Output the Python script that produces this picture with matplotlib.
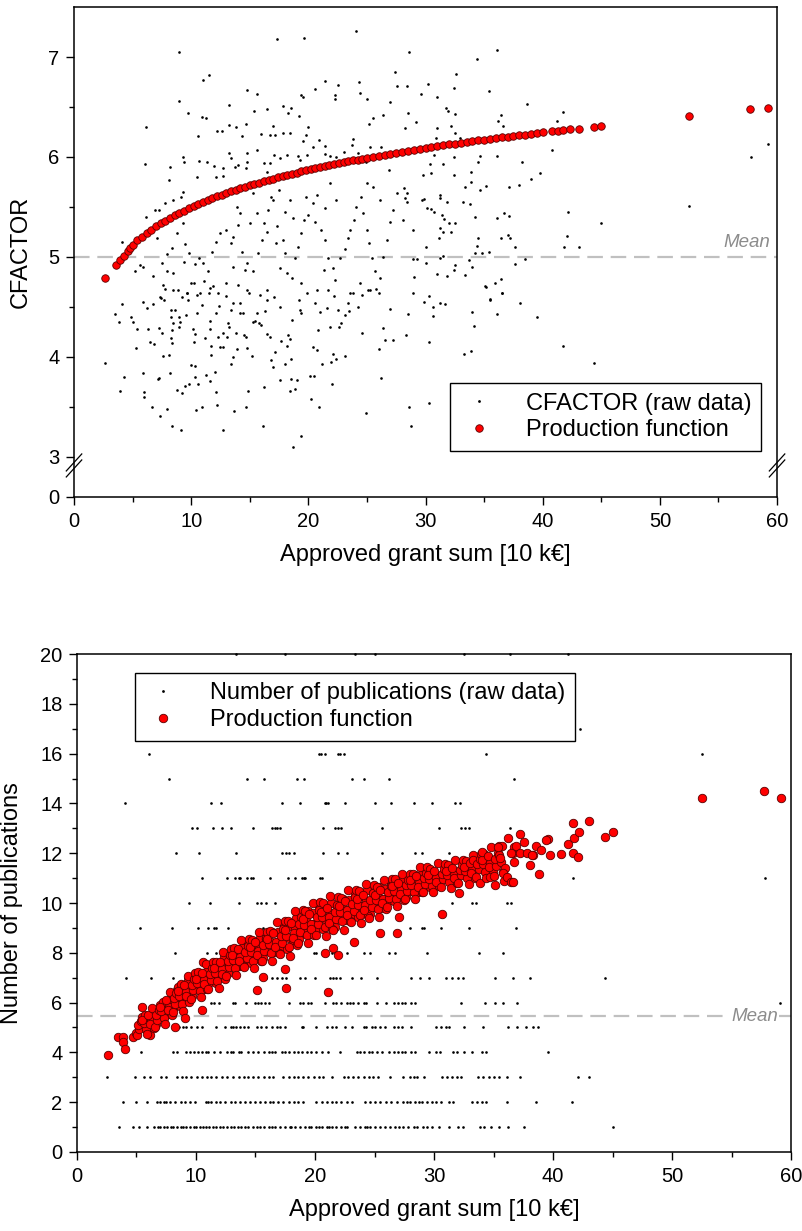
import matplotlib
matplotlib.use("Agg")
import matplotlib.pyplot as plt
import matplotlib.transforms as mtransforms
from matplotlib.lines import Line2D

plt.rcParams['font.family'] = ['Liberation Sans', 'DejaVu Sans']

# ---------------- top panel: CFACTOR ----------------
# raw CFACTOR values (grant sum [10 kEUR], cfactor)
cf_raw_low = [
    (2.67, 3.94), (3.5, 4.43), (3.87, 4.35), (4.13, 4.53), (4.24, 3.80), (3.95, 3.66), (4.84, 4.40), (5.04, 4.35),
    (5.41, 4.28), (5.26, 4.09), (5.92, 4.55), (6.23, 4.49), (6.71, 4.53), (6.29, 4.28), (6.46, 4.15), (6.83, 4.13),
    (5.92, 3.84), (6.0, 3.65), (6.0, 3.60), (6.63, 3.50), (7.14, 3.78), (7.28, 3.79), (7.31, 3.41), (7.57, 4.01),
    (7.23, 4.29), (7.54, 4.24), (7.43, 4.59), (7.68, 4.57), (7.97, 3.48), (8.36, 3.31), (8.19, 3.84), (8.14, 4.02),
    (8.25, 4.47), (8.31, 4.40), (8.34, 4.27), (8.28, 4.19), (8.34, 4.14), (8.42, 4.34), (8.62, 4.47), (8.76, 3.67),
    (9.1, 3.27), (9.25, 3.64), (9.47, 3.71), (8.99, 4.40), (9.05, 4.35), (8.96, 4.30), (9.56, 4.42), (9.7, 4.57),
    (9.96, 3.92), (10.3, 3.91), (9.84, 3.73), (10.3, 3.80), (10.4, 3.47), (10.55, 3.73), (10.9, 3.50), (11.24, 3.82),
    (11.6, 3.76), (12.0, 3.85), (12.1, 3.65), (12.2, 3.52), (12.75, 3.27), (10.2, 4.15), (10.36, 4.23), (10.47, 4.44),
    (10.13, 4.28), (10.5, 4.62), (10.75, 4.64), (11.18, 4.19), (11.6, 4.28), (11.65, 4.11), (11.68, 4.02), (11.6, 4.36),
    (12.1, 4.44), (12.3, 4.20), (12.46, 4.10), (12.69, 4.10), (12.75, 4.24), (13.1, 4.34), (13.26, 4.30), (13.03, 4.20),
    (13.37, 3.93), (13.6, 4.0), (13.68, 3.46), (13.88, 4.08), (13.8, 4.24), (14.17, 4.54), (14.45, 4.44), (14.53, 4.22),
    (14.7, 4.20), (14.74, 4.09), (14.68, 3.50), (14.82, 3.66), (15.2, 4.01), (15.3, 4.35), (15.45, 4.36), (15.8, 4.34),
    (15.93, 4.32), (16.2, 3.70), (16.1, 3.31), (16.5, 4.23), (16.7, 4.20), (16.8, 3.97), (17.0, 3.90), (17.15, 4.05),
    (17.6, 3.77), (17.7, 4.16), (18.0, 3.93), (18.15, 4.11), (18.3, 4.22), (18.4, 4.18), (18.5, 3.98), (18.5, 3.78),
    (18.4, 3.66), (18.9, 3.68), (19.0, 3.77), (18.7, 3.10), (19.35, 3.21), (20.1, 3.81), (20.5, 3.81), (20.2, 3.58),
    (20.9, 3.50), (20.4, 4.10), (20.7, 4.07), (20.85, 4.27), (21.2, 3.93), (22.05, 3.73), (21.9, 3.95), (22.1, 4.03),
    (22.36, 3.98), (23.1, 4.01), (24.9, 3.44), (26.0, 4.08), (26.2, 3.79), (26.5, 4.17), (27.25, 4.17), (26.35, 4.29),
    (24.6, 4.24), (24.2, 4.50), (23.4, 4.54), (22.6, 4.30), (21.85, 4.30), (22.75, 4.34), (22.55, 4.47), (23.1, 4.42),
    (23.5, 4.46), (21.6, 4.49), (21.0, 4.45), (20.6, 4.54), (19.3, 4.47), (19.2, 4.57), (19.4, 4.44), (18.6, 4.37),
    (17.6, 4.50), (17.1, 4.60), (16.3, 4.46), (16.45, 4.57), (15.6, 4.44), (14.9, 4.64), (14.2, 4.44), (13.6, 4.54),
    (13.4, 4.47), (12.95, 4.61), (12.4, 4.51), (11.9, 4.71), (11.5, 4.64), (10.9, 4.52), (10.27, 4.74), (9.6, 4.64),
    (9.25, 4.60), (8.85, 4.67), (8.48, 4.67), (7.77, 4.68), (7.34, 4.60), (25.8, 4.68), (25.1, 4.67), (24.6, 4.62),
    (23.8, 4.64), (22.2, 4.61), (21.7, 4.67), (26.97, 4.48),
]
cf_raw_mid = [
    (8.96, 7.05), (17.3, 7.18), (19.6, 7.19), (24.1, 7.26), (11.55, 6.82), (11.04, 6.77), (9.0, 6.56), (9.76, 6.44),
    (13.2, 6.52), (14.8, 6.67), (15.65, 6.63), (15.36, 6.46), (16.5, 6.48), (16.95, 6.31), (17.8, 6.51), (18.3, 6.44),
    (18.5, 6.49), (19.2, 6.41), (19.4, 6.62), (19.5, 6.60), (19.8, 6.22), (19.95, 6.30), (20.6, 6.68), (21.4, 6.76),
    (22.3, 6.62), (22.55, 6.72), (22.3, 6.58), (24.3, 6.75), (24.4, 6.64), (24.98, 6.58), (25.2, 6.33), (25.5, 6.39),
    (26.35, 6.42), (26.97, 6.55), (27.4, 6.85), (27.54, 6.71), (10.9, 6.40), (11.27, 6.39), (10.58, 6.21), (12.18, 6.26),
    (12.66, 6.26), (13.2, 6.32), (13.8, 6.30), (14.3, 6.21), (14.7, 6.33), (15.96, 6.23), (16.7, 6.22), (17.15, 6.22),
    (17.8, 6.24), (18.4, 6.24), (19.5, 6.16), (20.4, 6.10), (21.4, 6.11), (20.9, 6.17), (23.8, 6.18), (23.7, 6.12),
    (24.9, 5.95), (25.3, 6.10), (26.2, 6.10), (26.9, 5.87), (26.7, 6.04), (24.2, 6.04), (23.0, 6.05), (22.4, 6.00),
    (21.85, 6.01), (21.4, 6.03), (19.86, 6.02), (19.3, 5.97), (19.1, 6.01), (18.2, 6.02), (17.6, 5.99), (17.1, 6.02),
    (16.7, 5.94), (16.2, 5.94), (16.5, 5.85), (15.65, 6.07), (14.8, 6.04), (14.8, 5.95), (14.7, 5.89), (14.0, 5.92),
    (13.74, 5.90), (13.26, 6.04), (13.37, 5.99), (12.75, 5.89), (12.7, 5.81), (12.1, 5.80), (11.95, 5.91), (11.32, 5.95),
    (10.7, 5.96), (10.53, 5.80), (9.27, 6.00), (9.42, 5.95), (8.19, 5.90), (8.1, 5.77), (9.27, 5.65), (9.1, 5.60),
    (8.48, 5.57), (7.8, 5.54), (7.28, 5.47), (6.94, 5.47), (6.12, 6.30), (6.09, 5.93), (6.12, 5.40), (6.43, 5.28),
    (4.1, 5.15), (5.63, 4.92), (5.92, 4.90), (5.2, 4.86), (6.71, 4.81), (7.54, 4.94), (7.97, 5.03), (7.9, 4.86),
    (7.6, 4.72), (8.48, 4.84), (9.42, 4.95), (9.47, 5.13), (9.84, 5.04), (10.33, 4.93), (10.7, 4.99), (11.04, 4.94),
    (11.1, 4.76), (11.4, 4.86), (11.75, 5.05), (12.1, 5.15), (12.46, 5.24), (12.95, 5.27), (13.37, 5.14), (13.6, 5.20),
    (13.97, 5.32), (14.17, 5.44), (13.94, 5.50), (14.6, 4.87), (14.74, 4.94), (15.3, 4.86), (15.73, 5.04), (16.07, 5.17),
    (16.45, 5.25), (16.25, 5.34), (16.53, 5.47), (16.95, 5.57), (16.8, 5.60), (17.3, 5.31), (17.24, 5.14), (17.87, 5.17),
    (18.0, 5.04), (17.6, 4.89), (18.15, 4.84), (18.6, 4.79), (18.86, 4.99), (19.1, 5.10), (19.35, 5.24), (19.6, 5.37),
    (19.94, 5.42), (19.8, 5.60), (20.37, 5.54), (20.7, 5.62), (20.57, 5.35), (21.1, 5.27), (21.4, 5.17), (21.7, 4.99),
    (21.3, 4.87), (22.13, 4.89), (22.3, 4.77), (22.7, 4.99), (23.1, 5.08), (23.4, 5.19), (23.55, 5.27), (23.9, 5.37),
    (24.1, 5.50), (24.5, 5.60), (24.7, 5.44), (25.0, 5.27), (25.2, 5.14), (25.4, 4.99), (25.7, 4.86), (26.1, 4.79),
    (26.4, 5.00), (26.7, 5.17), (26.97, 5.35), (27.25, 5.47), (27.54, 5.64), (26.1, 5.57), (25.5, 5.70), (24.98, 5.74),
    (22.4, 5.57), (21.85, 5.74), (21.4, 5.49), (18.4, 5.57), (18.7, 5.39), (18.0, 5.45), (17.5, 5.67), (15.3, 5.64),
    (15.6, 5.44), (15.0, 5.34), (14.3, 5.05), (13.6, 4.90), (13.0, 4.74), (12.3, 4.64), (11.6, 4.69), (10.0, 4.74),
    (9.6, 4.64), (9.27, 5.34), (8.82, 5.24), (8.34, 5.09), (7.06, 5.19), (26.06, 4.64), (25.26, 4.67), (23.55, 4.64),
    (24.4, 4.74), (20.7, 4.67), (19.86, 4.64), (19.4, 4.74), (16.45, 4.67), (15.9, 4.62), (14.74, 4.67), (13.97, 4.72),
]
cf_raw_right = [
    (28.6, 7.05), (36.1, 7.07), (34.4, 6.98), (32.6, 6.83), (28.45, 6.71), (30.2, 6.73), (29.6, 6.63), (31.0, 6.60),
    (32.4, 6.69), (35.4, 6.66), (31.75, 6.49), (31.95, 6.46), (32.5, 6.43), (28.5, 6.44), (29.2, 6.35), (28.25, 6.29),
    (31.0, 6.29), (32.15, 6.31), (32.5, 6.24), (36.4, 6.42), (36.2, 6.36), (36.65, 6.31), (38.7, 6.53), (41.25, 6.36),
    (41.7, 6.45), (40.8, 6.07), (30.9, 6.19), (32.95, 6.19), (30.7, 6.02), (31.5, 5.93), (30.4, 5.93), (29.8, 5.82),
    (30.5, 5.84), (32.4, 6.00), (32.4, 5.82), (33.4, 5.70), (33.9, 5.85), (33.9, 5.75), (34.65, 6.01), (34.5, 5.95),
    (34.65, 5.67), (35.2, 5.71), (36.1, 6.01), (37.1, 5.70), (38.0, 5.72), (38.2, 5.95), (39.0, 5.78), (39.8, 5.84),
    (42.2, 5.45), (45.0, 5.34), (42.1, 5.21), (41.8, 5.10), (43.1, 5.10), (52.5, 5.51), (57.75, 6.00), (59.2, 6.13),
    (28.2, 5.69), (28.4, 5.64), (28.25, 5.59), (28.45, 5.55), (28.05, 5.37), (28.96, 5.27), (29.67, 5.57), (29.9, 5.58),
    (30.1, 5.49), (30.7, 5.45), (30.5, 5.48), (31.2, 5.62), (31.2, 5.59), (31.8, 5.55), (31.4, 5.42), (31.6, 5.38),
    (32.0, 5.34), (32.5, 5.34), (31.2, 5.29), (31.5, 5.25), (32.15, 5.25), (31.15, 5.19), (33.2, 5.55), (33.8, 5.53),
    (34.2, 5.40), (36.1, 5.39), (36.7, 5.44), (37.1, 5.41), (36.4, 5.19), (37.0, 5.22), (37.2, 5.19), (37.6, 5.10),
    (34.5, 5.19), (34.35, 5.11), (34.2, 5.04), (35.4, 5.05), (34.8, 5.04), (30.0, 5.10), (28.96, 4.98), (29.25, 4.98),
    (30.0, 4.94), (31.2, 4.99), (31.5, 5.01), (31.8, 4.81), (30.95, 4.83), (32.5, 4.92), (32.45, 4.87), (33.4, 4.82),
    (33.75, 4.97), (34.0, 4.90), (37.6, 4.93), (38.5, 4.98), (29.0, 4.80), (28.9, 4.64), (30.3, 4.61), (35.2, 4.70),
    (35.9, 4.74), (36.4, 4.78), (36.5, 4.64), (35.5, 4.58),
    (41.7, 4.11), (44.4, 3.94), (39.5, 4.40), (38.1, 4.54), (34.0, 4.45), (34.1, 4.31), (33.3, 4.03), (33.9, 4.06),
    (30.3, 4.15), (28.6, 3.50), (30.3, 3.54), (28.8, 3.31), (35.1, 4.71), (35.5, 4.57), (36.1, 4.43), (36.5, 4.64),
    (31.2, 4.54), (31.7, 4.53), (29.9, 4.55), (30.6, 4.50), (30.6, 4.41), (28.5, 4.43), (28.3, 4.22),
]

# production function values for CFACTOR
cf_fit_x = [2.67, 3.56, 3.93, 4.27, 4.6, 4.8, 5.0, 5.4, 5.8, 6.2, 6.6, 7.0, 7.4, 7.8, 8.2, 8.6, 9.0, 9.4, 9.8,
            10.2, 10.6, 11.0, 11.4, 11.8, 12.2, 12.6, 13.0, 13.4, 13.8, 14.2, 14.6, 15.0, 15.4, 15.8, 16.2,
            16.6, 17.0, 17.4, 17.8, 18.2, 18.6, 19.0, 19.4, 19.8, 20.2, 20.6, 21.0, 21.4, 21.8, 22.2, 22.6,
            23.0, 23.4, 23.8, 24.2, 24.6, 25.0, 25.5, 26.0, 26.5, 27.0, 27.5, 28.0, 28.5, 29.0, 29.5, 30.0,
            30.5, 31.0, 31.5, 32.0, 32.5, 33.0, 33.5, 34.0, 34.5, 35.0, 35.5, 36.0, 36.5, 37.0, 37.5, 38.0,
            38.5, 39.0, 39.5, 40.0, 40.8, 41.3, 41.7, 42.3, 43.1, 44.4, 45.0, 52.5, 57.7, 59.2]
cf_fit_y = [4.79, 4.92, 4.97, 5.01, 5.06, 5.09, 5.12, 5.165, 5.203, 5.239, 5.273, 5.305, 5.335, 5.363, 5.39,
            5.416, 5.44, 5.464, 5.486, 5.508, 5.529, 5.549, 5.568, 5.587, 5.605, 5.622, 5.639, 5.655, 5.672,
            5.687, 5.702, 5.716, 5.73, 5.744, 5.758, 5.771, 5.784, 5.796, 5.809, 5.821, 5.832, 5.844, 5.855,
            5.866, 5.877, 5.888, 5.898, 5.908, 5.918, 5.928, 5.938, 5.947, 5.956, 5.966, 5.974, 5.983, 5.992,
            6.003, 6.013, 6.024, 6.034, 6.043, 6.053, 6.063, 6.072, 6.081, 6.09, 6.1, 6.108, 6.117, 6.126,
            6.134, 6.142, 6.15, 6.158, 6.166, 6.174, 6.182, 6.189, 6.196, 6.204, 6.211, 6.218, 6.225, 6.232,
            6.239, 6.246, 6.26, 6.265, 6.27, 6.28, 6.285, 6.30, 6.31, 6.41, 6.48, 6.49]
cf_mean = 5.0

# ---------------- bottom panel: publications ----------------
# raw publication counts: grant sums listed per count
pub_1 = [3.5, 4.7, 5.2, 5.9, 6.5, 6.8, 7.0, 7.3, 7.6, 7.9, 8.1, 8.4, 8.7, 8.9, 9.2, 9.5, 9.8, 10.0, 10.3, 10.6,
         10.8, 11.1, 11.4, 11.7, 12.0, 12.3, 12.6, 12.9, 13.2, 13.5, 13.8, 14.1, 14.4, 14.8, 15.1, 15.4, 15.7,
         16.1, 16.4, 16.6, 17.1, 17.5, 17.9, 18.0, 18.3, 18.7, 19.2, 19.5, 19.7, 20.1, 20.3, 20.6, 21.0, 21.2,
         21.4, 21.8, 22.2, 22.5, 22.7, 23.4, 23.8, 24.2, 24.4, 24.6, 25.0, 25.5, 25.9, 26.3, 26.7, 27.1, 27.4,
         27.8, 28.3, 28.6, 29.1, 29.4, 29.8, 30.4, 31.3, 32.0, 32.4, 33.9, 34.2, 34.8, 35.5, 36.2, 37.6, 45.0]
pub_2 = [3.9, 5.0, 5.9, 6.7, 7.0, 7.3, 7.5, 7.8, 8.2, 8.7, 9.1, 9.5, 9.9, 10.8, 11.0, 11.3, 11.7, 12.0, 12.4,
         12.9, 13.3, 13.7, 14.1, 14.5, 15.0, 15.4, 15.8, 16.2, 16.5, 16.9, 17.3, 17.8, 18.2, 18.6, 19.0, 20.1,
         20.6, 21.0, 21.4, 21.8, 22.2, 22.7, 23.1, 24.2, 24.6, 25.0, 25.5, 26.0, 26.4, 26.9, 27.4, 27.7, 28.0,
         28.4, 28.7, 29.0, 29.4, 29.8, 30.2, 30.6, 31.3, 31.6, 33.2, 33.6, 34.0, 34.4, 36.1, 38.6, 41.6]
pub_3 = [2.55, 4.9, 5.6, 6.1, 7.1, 7.5, 8.4, 8.8, 9.2, 9.6, 10.1, 10.5, 10.9, 11.3, 11.7, 12.2, 12.6, 13.1,
         13.6, 14.0, 14.4, 14.8, 15.2, 15.7, 16.1, 16.5, 17.3, 17.8, 18.2, 18.6, 19.0, 19.4, 19.9, 20.3, 20.7,
         21.4, 22.4, 22.8, 23.2, 23.6, 24.1, 24.5, 24.9, 25.3, 26.3, 27.4, 28.0, 28.3, 28.6, 29.2, 30.7, 31.1,
         31.5, 31.9, 32.3, 33.7, 34.1, 34.6, 35.0, 35.5, 36.1, 37.2, 42.1, 43.0]
pub_4 = [5.4, 8.1, 8.4, 9.2, 9.5, 9.8, 10.2, 10.5, 10.8, 11.0, 11.5, 12.0, 12.6, 12.9, 13.1, 13.6, 13.8, 14.4,
         14.8, 15.2, 15.7, 16.1, 16.4, 16.6, 17.2, 17.5, 17.8, 18.2, 18.6, 18.9, 19.3, 19.7, 20.1, 20.6, 21.1,
         22.1, 23.5, 23.8, 24.1, 24.5, 24.8, 25.2, 25.6, 26.2, 26.6, 27.0, 27.3, 27.6, 28.1, 28.4, 29.6, 30.2,
         30.5, 31.6, 31.9, 32.5, 33.2, 34.0, 34.4, 39.6]
pub_5 = [8.6, 8.9, 9.2, 9.6, 10.1, 10.5, 11.7, 12.4, 12.9, 13.1, 13.4, 13.7, 14.0, 14.4, 15.1, 15.5, 15.9,
         16.4, 16.8, 17.1, 17.5, 18.9, 19.0, 20.1, 21.0, 21.4, 21.8, 22.5, 23.1, 24.1, 24.3, 24.8, 25.0, 25.5,
         25.9, 26.6, 27.0, 27.3, 28.1, 30.2, 30.6, 31.0, 31.3, 32.5, 34.1, 36.2, 37.0, 37.7, 38.3, 38.7]
pub_6 = [11.3, 11.5, 11.9, 13.1, 13.3, 14.2, 15.0, 15.2, 15.5, 15.8, 16.1, 17.8, 18.7, 19.0, 19.4, 19.7, 20.8,
         21.5, 21.8, 22.2, 22.7, 22.9, 23.2, 23.6, 24.1, 24.3, 25.2, 26.0, 26.6, 27.0, 27.3, 27.6, 28.1, 28.4,
         32.3, 34.3, 35.1, 35.8, 37.0, 59.1]
pub_7 = [4.1, 6.2, 8.1, 9.1, 9.8, 15.9, 16.4, 16.8, 17.2, 17.6, 18.7, 19.2, 20.0, 21.3, 21.5, 21.8, 22.1,
         23.1, 23.9, 25.2, 28.1, 28.8, 29.6, 31.0, 31.5, 32.0, 32.4, 35.1, 36.6, 38.1, 44.4]
pub_8 = [8.2, 10.9, 11.7, 19.9, 20.1, 20.7, 21.4, 21.7, 22.7, 24.1, 24.6, 26.2, 26.7, 29.4, 33.8, 35.8]
pub_9 = [5.3, 8.0, 10.2, 11.0, 11.5, 11.7, 12.7, 15.6, 28.0, 29.0, 29.2, 30.6, 32.9, 36.9]
pub_10 = [9.4, 11.2, 13.6, 15.1, 15.5, 15.9, 16.6, 31.5, 33.2, 33.5, 36.1, 36.5]
pub_11 = [10.5, 12.6, 13.3, 13.6, 13.7, 14.3, 14.6, 14.8, 16.2, 17.7, 18.3, 18.9, 19.1, 19.2, 20.4, 20.6,
          24.8, 41.7, 57.8]
pub_12 = [8.3, 10.25, 13.4, 17.2, 17.6, 17.85, 18.2, 20.7, 21.9, 22.7, 25.6, 28.4, 28.96, 31.3]
pub_13 = [9.7, 10.1, 11.45, 12.2, 12.9, 14.8, 16.4, 16.6, 16.8, 17.1, 20.7, 21.7, 21.9, 22.2, 25.6, 30.4,
          32.3, 32.6, 32.9, 36.4]
pub_14 = [4.0, 11.3, 12.1, 17.2, 18.7, 20.8, 20.9, 21.1, 22.5, 25.0, 26.4, 28.3, 29.8, 31.8, 32.2]
pub_15 = [7.7, 14.3, 15.7, 18.5, 19.1, 23.1, 24.1, 26.2, 36.7]
pub_16 = [6.05, 20.3, 20.5, 20.8, 21.9, 22.1, 22.4, 34.4, 52.5]
pub_17 = [42.3]
pub_20 = [13.4, 17.5, 23.4, 25.0, 32.5, 36.4, 41.3]

# production function values for publications (grant sum, predicted count)
pub_fit = [
    (2.63, 3.9), (3.47, 4.63), (3.89, 4.63), (3.89, 4.43), (4.03, 4.15), (4.73, 4.63), (5.0, 4.77), (6.13, 4.70),
    (5.05, 4.71), (5.25, 4.94), (5.15, 5.10), (5.35, 5.25), (5.45, 5.41),
    (5.8, 4.95), (5.6, 5.18), (5.9, 4.75), (5.7, 5.52), (5.5, 5.32), (5.43, 5.84),
    (6.2, 5.27), (6.45, 4.99), (6.0, 5.51), (6.3, 5.80), (6.15, 5.15),
    (6.55, 5.03), (6.75, 5.32), (6.65, 5.51), (6.85, 5.69), (6.95, 5.89),
    (7.3, 5.39), (7.1, 5.65), (7.4, 5.16), (7.2, 6.04), (7.0, 5.81),
    (7.7, 5.84), (7.95, 5.52), (7.5, 6.12), (7.8, 6.44), (7.65, 5.70),
    (8.05, 5.61), (8.25, 5.94), (8.15, 6.17), (8.35, 6.39), (8.45, 6.62), (8.24, 5.0),
    (8.8, 5.95), (8.6, 6.27), (8.9, 5.67), (8.7, 6.75), (8.5, 6.47), (9.08, 5.37),
    (9.2, 6.41), (9.45, 6.04), (9.0, 6.72), (9.3, 7.08), (9.15, 6.25),
    (9.55, 6.16), (9.75, 6.49), (9.65, 6.72), (9.85, 6.94), (9.95, 7.17),
    (10.3, 6.48), (10.1, 6.77), (10.4, 6.22), (10.2, 7.22), (10.0, 6.96), (10.5, 5.70), (10.56, 7.64),
    (10.7, 6.89), (10.95, 6.53), (10.5, 7.18), (10.8, 7.54), (10.65, 6.73),
    (11.05, 6.56), (11.25, 6.91), (11.15, 7.14), (11.35, 7.37), (11.45, 7.62),
    (11.8, 6.85), (11.6, 7.17), (11.9, 6.57), (11.7, 7.65), (11.5, 7.37),
    (12.2, 7.33), (12.45, 6.95), (12.0, 7.65), (12.3, 8.03), (12.15, 7.16),
    (12.55, 7.07), (12.75, 7.43), (12.65, 7.67), (12.85, 7.91), (12.95, 8.16),
    (13.3, 7.40), (13.1, 7.72), (13.4, 7.12), (13.2, 8.20), (13.0, 7.92),
    (13.7, 7.83), (13.95, 7.45), (13.5, 8.15), (13.8, 8.53), (13.65, 7.66),
    (14.05, 7.42), (14.25, 7.80), (14.15, 8.05), (14.35, 8.29), (14.45, 8.56),
    (14.8, 7.68), (14.6, 8.02), (14.9, 7.38), (14.7, 8.53), (14.5, 8.23),
    (15.2, 8.08), (15.45, 7.67), (15.0, 8.42), (15.3, 8.83), (15.15, 7.90), (15.1, 6.50), (15.66, 7.04),
    (15.55, 7.68), (15.75, 8.07), (15.65, 8.33), (15.85, 8.58), (15.95, 8.85),
    (16.3, 7.99), (16.1, 8.34), (16.4, 7.68), (16.2, 8.87), (16.0, 8.56),
    (16.7, 8.42), (16.95, 7.99), (16.5, 8.79), (16.8, 9.22), (16.65, 8.23),
    (17.05, 7.95), (17.25, 8.40), (17.15, 8.69), (17.35, 8.97), (17.45, 9.28),
    (17.8, 8.25), (17.6, 8.66), (17.9, 7.89), (17.7, 9.28), (17.5, 8.92), (17.6, 6.57), (17.5, 7.34),
    (18.2, 8.79), (18.45, 8.32), (18.0, 9.19), (18.3, 9.66), (18.15, 8.58),
    (18.55, 8.40), (18.75, 8.85), (18.65, 9.14), (18.85, 9.42), (18.95, 9.73),
    (19.3, 8.73), (19.1, 9.12), (19.4, 8.39), (19.2, 9.69), (19.0, 9.35),
    (19.7, 9.17), (19.95, 8.71), (19.5, 9.56), (19.8, 10.02), (19.65, 8.96),
    (20.05, 8.70), (20.25, 9.15), (20.15, 9.44), (20.35, 9.72), (20.45, 10.03),
    (20.8, 9.03), (20.6, 9.42), (20.9, 8.69), (20.7, 9.99), (20.5, 9.65), (20.8, 8.0),
    (21.2, 9.42), (21.45, 8.96), (21.0, 9.81), (21.3, 10.27), (21.15, 9.21), (21.07, 6.41), (21.5, 8.18),
    (21.55, 8.90), (21.75, 9.35), (21.65, 9.64), (21.85, 9.92), (21.95, 10.23), (21.9, 7.91),
    (22.3, 9.26), (22.1, 9.64), (22.4, 8.93), (22.2, 10.20), (22.0, 9.87),
    (22.7, 9.72), (22.95, 9.29), (22.5, 10.09), (22.8, 10.52), (22.65, 9.53),
    (23.05, 9.25), (23.25, 9.68), (23.15, 9.96), (23.35, 10.24), (23.45, 10.54), (23.3, 8.45),
    (23.8, 9.53), (23.6, 9.92), (23.9, 9.19), (23.7, 10.49), (23.5, 10.15),
    (24.2, 9.92), (24.45, 9.46), (24.0, 10.31), (24.3, 10.77), (24.15, 9.71),
    (24.55, 9.40), (24.75, 9.85), (24.65, 10.14), (24.85, 10.42), (24.95, 10.73),
    (25.3, 9.75), (25.1, 10.12), (25.4, 9.43), (25.2, 10.66), (25.0, 10.34), (25.46, 8.81),
    (25.7, 10.18), (25.95, 9.77), (25.5, 10.52), (25.8, 10.93), (25.65, 10.00),
    (26.05, 9.82), (26.25, 10.20), (26.15, 10.45), (26.35, 10.69), (26.45, 10.96),
    (26.8, 10.15), (26.6, 10.47), (26.9, 9.87), (26.7, 10.95), (26.5, 10.67), (26.86, 8.81),
    (27.2, 10.51), (27.45, 10.14), (27.0, 10.82), (27.3, 11.18), (27.15, 10.35), (27.1, 9.45),
    (27.55, 10.16), (27.75, 10.49), (27.65, 10.72), (27.85, 10.94), (27.95, 11.17),
    (28.3, 10.43), (28.1, 10.72), (28.4, 10.17), (28.2, 11.17), (28.0, 10.91),
    (28.7, 10.79), (28.95, 10.43), (28.5, 11.08), (28.8, 11.44), (28.65, 10.63),
    (29.05, 10.45), (29.25, 10.78), (29.15, 10.99), (29.35, 11.20), (29.45, 11.43),
    (29.8, 10.70), (29.6, 10.98), (29.9, 10.46), (29.7, 11.38), (29.5, 11.14),
    (30.2, 10.99), (30.45, 10.67), (30.0, 11.27), (30.3, 11.59), (30.15, 10.85), (30.65, 9.55),
    (30.55, 10.64), (30.75, 10.96), (30.65, 11.16), (30.85, 11.36), (30.95, 11.58),
    (31.3, 10.85), (31.1, 11.13), (31.4, 10.61), (31.2, 11.53), (31.0, 11.29),
    (31.7, 11.14), (31.95, 10.82), (31.5, 11.42), (31.8, 11.74), (31.65, 11.00),
    (32.05, 10.79), (32.25, 11.11), (32.15, 11.31), (32.35, 11.51), (32.45, 11.73), (32.1, 10.39),
    (32.8, 11.00), (32.6, 11.28), (32.9, 10.76), (32.7, 11.68), (32.5, 11.44),
    (33.2, 11.34), (33.45, 11.02), (33.0, 11.62), (33.3, 11.94), (33.15, 11.20), (33.3, 11.73),
    (33.55, 11.04), (33.75, 11.36), (33.65, 11.56), (33.85, 11.76), (33.95, 11.98), (33.87, 10.79),
    (34.3, 11.26), (34.1, 11.55), (34.4, 11.01), (34.2, 11.98), (34.0, 11.73), (34.0, 12.06),
    (34.7, 11.59), (34.95, 11.23), (34.5, 11.88), (34.8, 12.24), (34.65, 11.43), (34.7, 11.06),
    (35.05, 11.09), (35.25, 11.49), (35.15, 11.75), (35.35, 12.02), (35.45, 12.30), (35.1, 10.72),
    (35.8, 11.25), (35.6, 11.66), (35.9, 10.89), (35.7, 12.28), (35.5, 11.92), (35.4, 12.26),
    (35.97, 11.39), (35.8, 11.22), (36.1, 11.06), (35.55, 11.8), (36.25, 12.6), (36.5, 10.85),
    (36.6, 12.0), (36.7, 12.26), (36.7, 11.66), (36.9, 12.29), (36.5, 12.0), (36.6, 10.86),
    (37.2, 12.77), (37.6, 12.46), (37.2, 12.0), (37.8, 12.0), (38.3, 11.93), (38.07, 11.52),
    (38.2, 11.93), (38.8, 11.16), (38.6, 12.29), (39.0, 12.13), (39.55, 12.56), (39.45, 12.53),
    (39.75, 11.93), (40.7, 11.97), (41.3, 12.35), (41.7, 12.0), (41.8, 12.6), (42.1, 11.83),
    (42.2, 12.86), (41.7, 13.2), (43.05, 13.3), (44.4, 12.66), (45.0, 12.84),
    (52.5, 14.2), (57.75, 14.5), (59.2, 14.23),
]
# further production function points filling the dense core of the band
pub_fit_core = [
    (6.15, 5.12), (6.3, 5.38), (6.37, 5.64), (6.65, 5.12), (6.8, 5.40), (6.87, 5.67),
    (7.15, 5.45), (7.3, 5.73), (7.37, 6.02), (7.65, 5.54), (7.8, 5.84), (7.87, 6.14),
    (8.15, 5.84), (8.3, 6.17), (8.37, 6.49), (8.65, 5.88), (8.8, 6.23), (8.87, 6.58),
    (9.15, 6.21), (9.3, 6.54), (9.37, 6.88), (9.65, 6.26), (9.8, 6.59), (9.87, 6.91),
    (10.15, 6.54), (10.3, 6.87), (10.37, 7.19), (10.65, 6.56), (10.8, 6.89), (10.87, 7.21),
    (11.15, 6.81), (11.3, 7.14), (11.37, 7.48), (11.65, 6.78), (11.8, 7.13), (11.87, 7.48),
    (12.15, 7.12), (12.3, 7.47), (12.37, 7.82), (12.65, 7.18), (12.8, 7.53), (12.87, 7.88),
    (13.15, 7.47), (13.3, 7.82), (13.37, 8.17), (13.65, 7.48), (13.8, 7.83), (13.87, 8.18),
    (14.15, 7.69), (14.3, 8.05), (14.37, 8.41), (14.65, 7.60), (14.8, 7.98), (14.87, 8.35),
    (15.15, 7.85), (15.3, 8.23), (15.37, 8.60), (15.65, 7.80), (15.8, 8.18), (15.87, 8.55),
    (16.15, 8.07), (16.3, 8.45), (16.37, 8.84), (16.65, 8.02), (16.8, 8.42), (16.87, 8.82),
    (17.15, 8.26), (17.3, 8.69), (17.37, 9.11), (17.65, 8.16), (17.8, 8.61), (17.87, 9.06),
    (18.15, 8.53), (18.3, 8.96), (18.37, 9.40), (18.65, 8.54), (18.8, 8.97), (18.87, 9.39),
    (19.15, 8.81), (19.3, 9.24), (19.37, 9.66), (19.65, 8.74), (19.8, 9.17), (19.87, 9.59),
    (20.15, 9.01), (20.3, 9.44), (20.37, 9.86), (20.65, 8.94), (20.8, 9.37), (20.87, 9.79),
    (21.15, 9.16), (21.3, 9.59), (21.37, 10.01), (21.65, 9.04), (21.8, 9.47), (21.87, 9.89),
    (22.15, 9.35), (22.3, 9.76), (22.37, 10.17), (22.65, 9.32), (22.8, 9.72), (22.87, 10.12),
    (23.15, 9.55), (23.3, 9.96), (23.37, 10.37), (23.65, 9.44), (23.8, 9.87), (23.87, 10.29),
    (24.15, 9.66), (24.3, 10.09), (24.37, 10.51), (24.65, 9.54), (24.8, 9.97), (24.87, 10.39),
    (25.15, 9.83), (25.3, 10.23), (25.37, 10.63), (25.65, 9.80), (25.8, 10.18), (25.87, 10.55),
    (26.15, 10.09), (26.3, 10.45), (26.37, 10.81), (26.65, 10.08), (26.8, 10.43), (26.87, 10.78),
    (27.15, 10.31), (27.3, 10.64), (27.37, 10.98), (27.65, 10.26), (27.8, 10.59), (27.87, 10.91),
    (28.15, 10.49), (28.3, 10.82), (28.37, 11.14), (28.65, 10.46), (28.8, 10.79), (28.87, 11.11),
    (29.15, 10.68), (29.3, 10.99), (29.37, 11.30), (29.65, 10.64), (29.8, 10.94), (29.87, 11.24),
]
pub_mean = 5.45

# ---------------- drawing ----------------
fig = plt.figure(figsize=(8.02, 12.31), dpi=100)
ax1 = fig.add_axes([0.0923, 0.5963, 0.8766, 0.398])
ax2 = fig.add_axes([0.0960, 0.0642, 0.8903, 0.4045])

raw_style = dict(linestyle='none', marker='.', markersize=3.8, color='black', markeredgewidth=0)
fit_style = dict(linestyle='none', marker='o', markersize=5.4, markerfacecolor='#ff0000',
                 markeredgecolor='#5a0000', markeredgewidth=0.6)
fit_style2 = dict(fit_style, markersize=6.1)

tick_fs = 14.5
label_fs = 17
legend_fs = 17

# top panel
cf_raw = cf_raw_low + cf_raw_mid + cf_raw_right
ax1.plot([p[0] for p in cf_raw], [p[1] for p in cf_raw], zorder=2, **raw_style)
ax1.axhline(cf_mean, color='#c0c0c0', lw=1.6, dashes=(7, 3.5), zorder=1)
ax1.plot(cf_fit_x, cf_fit_y, zorder=3, **fit_style)
ax1.text(59.4, cf_mean + 0.06, 'Mean', ha='right', va='bottom', style='italic',
         color='#8c8c8c', fontsize=13.5)

ax1.set_xlim(0, 60)
ax1.set_ylim(2.6, 7.5)
ax1.set_yticks([2.6, 3, 4, 5, 6, 7])
ax1.set_yticklabels(['0', '3', '4', '5', '6', '7'])
ax1.set_yticks([3.5, 4.5, 5.5, 6.5], minor=True)
ax1.set_xlabel('Approved grant sum [10 k€]', fontsize=label_fs, labelpad=10)
ax1.set_ylabel('CFACTOR', fontsize=label_fs, labelpad=12)

# axis break marks
trans = mtransforms.blended_transform_factory(ax1.transAxes, ax1.transData)
for xa in (0.0, 1.0):
    for yb in (2.80, 2.86):
        ax1.plot([xa - 0.011, xa + 0.011], [yb, yb + 0.17], color='black', lw=0.9,
                 transform=trans, clip_on=False, zorder=5)

h1 = [Line2D([], [], **dict(raw_style, markersize=4)), Line2D([], [], **fit_style)]
leg1 = ax1.legend(h1, ['CFACTOR (raw data)', 'Production function'], loc='lower right',
                  bbox_to_anchor=(0.977, 0.094), fontsize=legend_fs, fancybox=False,
                  edgecolor='black', framealpha=1, borderpad=0.4, handletextpad=1.2,
                  handlelength=1.6, labelspacing=0.2, borderaxespad=0)
leg1.get_frame().set_linewidth(1.0)

# bottom panel
pub_rows = [(1, pub_1), (2, pub_2), (3, pub_3), (4, pub_4), (5, pub_5), (6, pub_6), (7, pub_7),
            (8, pub_8), (9, pub_9), (10, pub_10), (11, pub_11), (12, pub_12), (13, pub_13),
            (14, pub_14), (15, pub_15), (16, pub_16), (17, pub_17), (20, pub_20)]
raw_x = []
raw_y = []
for count, xs in pub_rows:
    raw_x += xs
    raw_y += [count] * len(xs)
ax2.plot(raw_x, raw_y, zorder=2, clip_on=False, **raw_style)
ax2.axhline(pub_mean, color='#c0c0c0', lw=1.6, dashes=(7, 3.5), zorder=1)
fit_pts = pub_fit_core + pub_fit
ax2.plot([p[0] for p in fit_pts], [p[1] for p in fit_pts], zorder=3, **fit_style2)
ax2.text(58.9, pub_mean, 'Mean', ha='right', va='center', style='italic', color='#8c8c8c',
         fontsize=13.5, zorder=4, bbox=dict(facecolor='white', edgecolor='none', pad=0.5))

ax2.set_xlim(0, 60)
ax2.set_ylim(0, 20)
ax2.set_yticks(range(0, 21, 2))
ax2.set_yticks(range(1, 20, 2), minor=True)
ax2.set_xlabel('Approved grant sum [10 k€]', fontsize=label_fs, labelpad=10)
ax2.set_ylabel('Number of publications', fontsize=label_fs, labelpad=12)

h2 = [Line2D([], [], **dict(raw_style, markersize=4)), Line2D([], [], **fit_style2)]
leg2 = ax2.legend(h2, ['Number of publications (raw data)', 'Production function'],
                  loc='upper left', bbox_to_anchor=(0.081, 0.962), fontsize=legend_fs,
                  fancybox=False, edgecolor='black', framealpha=1, borderpad=0.4,
                  handletextpad=1.2, handlelength=1.6, labelspacing=0.2, borderaxespad=0)
leg2.get_frame().set_linewidth(1.0)

for ax in (ax1, ax2):
    ax.set_xticks(range(0, 61, 10))
    ax.set_xticks(range(5, 60, 10), minor=True)
    ax.tick_params(which='both', direction='out', top=False, right=False, labelsize=tick_fs, width=1.0)
    ax.tick_params(which='major', length=5.5, pad=5)
    ax.tick_params(which='minor', length=3.5)
    for sp in ax.spines.values():
        sp.set_linewidth(1.1)

fig.savefig('out.png', dpi=100)
